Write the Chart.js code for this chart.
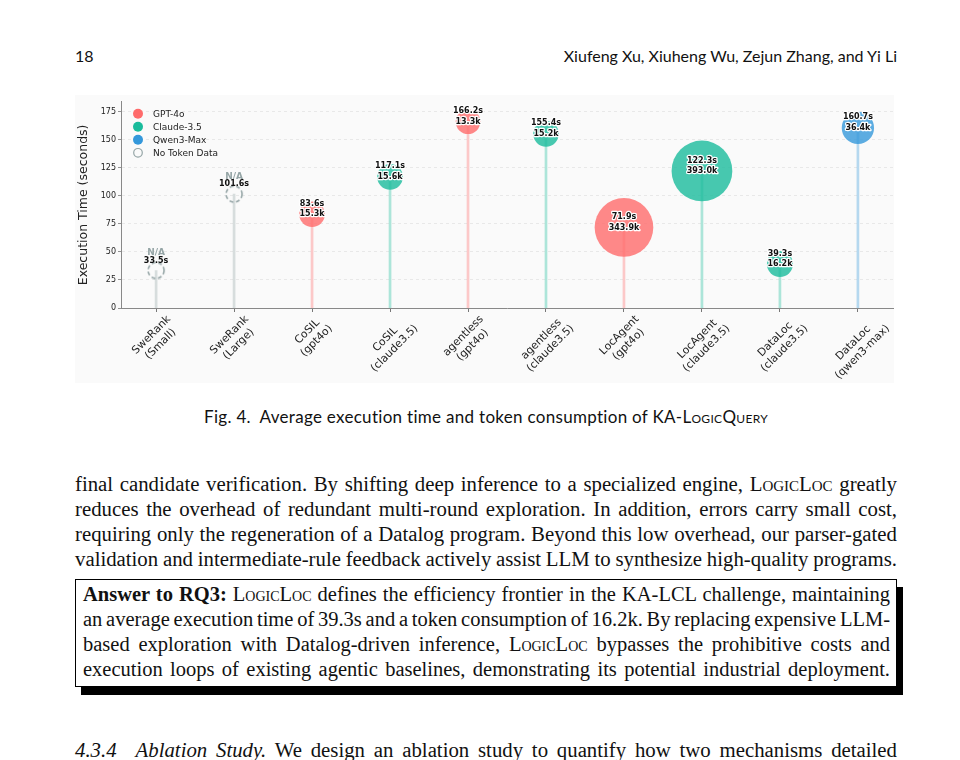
<!DOCTYPE html>
<html>
<head>
<meta charset="utf-8">
<script src="https://cdn.jsdelivr.net/npm/chart.js@4.4.1/dist/chart.umd.min.js"></script>
<style>
  html, body { margin: 0; padding: 0; background: #fff; }
  body { width: 960px; height: 760px; position: relative; overflow: hidden; color: #111; }
  .hdr { position: absolute; top: 46px; font-family: Lato, "Open Sans", sans-serif; font-size: 16px; line-height: 20px; }
  #figura { position: absolute; left: 75px; top: 95px; width: 819px; height: 288px; background: #fafafa; }
  .caption { position: absolute; left: 6px; width: 960px; top: 407px; text-align: center; letter-spacing: 0.3px;
             font-family: Lato, "Open Sans", sans-serif; font-size: 17px; line-height: 20px; }
  .sc { font-variant: small-caps; }
  .texto { position: absolute; left: 75px; width: 822px; font-family: "Liberation Serif", serif;
           font-size: 20.8px; line-height: 25px; }
  .texto div, .caja div { text-align: justify; text-align-last: justify; white-space: nowrap; word-spacing: -2px; }
  .caja { position: absolute; left: 75px; top: 579px; width: 807px; border: 1px solid #000;
          padding: 2px 6px 4px 7px; background: #fff; box-shadow: 6px 8px 0 #000;
          font-family: "Liberation Serif", serif; font-size: 20.5px; line-height: 25px; }
  .hueco { display: inline-block; width: 19px; }
</style>
</head>
<body>
<div class="hdr" style="left:75px">18</div>
<div class="hdr" style="right:63px">Xiufeng Xu, Xiuheng Wu, Zejun Zhang, and Yi Li</div>

<div id="figura"><canvas id="grafico" width="819" height="288"></canvas></div>

<div class="caption">Fig. 4.&nbsp; Average execution time and token consumption of KA-<span class="sc">LogicQuery</span></div>

<div class="texto" style="top:471px">
  <div>final candidate verification. By shifting deep inference to a specialized engine, <span class="sc">LogicLoc</span> greatly</div>
  <div>reduces the overhead of redundant multi-round exploration. In addition, errors carry small cost,</div>
  <div>requiring only the regeneration of a Datalog program. Beyond this low overhead, our parser-gated</div>
  <div>validation and intermediate-rule feedback actively assist LLM to synthesize high-quality programs.</div>
</div>

<div class="caja">
  <div><b>Answer to RQ3:</b> <span class="sc">LogicLoc</span> defines the efficiency frontier in the KA-LCL challenge, maintaining</div>
  <div>an average execution time of 39.3s and a token consumption of 16.2k. By replacing expensive LLM-</div>
  <div>based exploration with Datalog-driven inference, <span class="sc">LogicLoc</span> bypasses the prohibitive costs and</div>
  <div>execution loops of existing agentic baselines, demonstrating its potential industrial deployment.</div>
</div>

<div class="texto" style="top:737px">
  <div><i>4.3.4</i><span class="hueco"></span><i>Ablation Study.</i> We design an ablation study to quantify how two mechanisms detailed</div>
</div>

<script>
// Datos del gráfico
const categorias = [
  ['SweRank', '(Small)'], ['SweRank', '(Large)'], ['CoSIL', '(gpt4o)'], ['CoSIL', '(claude3.5)'],
  ['agentless', '(gpt4o)'], ['agentless', '(claude3.5)'], ['LocAgent', '(gpt4o)'], ['LocAgent', '(claude3.5)'],
  ['DataLoc', '(claude3.5)'], ['DataLoc', '(qwen3-max)']
];
const tiempos = [33.5, 101.6, 83.6, 117.1, 166.2, 155.4, 71.9, 122.3, 39.3, 160.7];
const tokensK = [null, null, 15.3, 15.6, 13.3, 15.2, 343.9, 393.0, 16.2, 36.4];
const modelos = ['N/A', 'N/A', 'GPT-4o', 'Claude-3.5', 'GPT-4o', 'Claude-3.5', 'GPT-4o', 'Claude-3.5', 'Claude-3.5', 'Qwen3-Max'];
const yTicks = [0, 25, 50, 75, 100, 125, 150, 175];
const leyenda = ['GPT-4o', 'Claude-3.5', 'Qwen3-Max', 'No Token Data'];

// Colores por modelo
const colores = { 'GPT-4o': [255, 107, 107], 'Claude-3.5': [26, 188, 156], 'Qwen3-Max': [52, 152, 219], 'N/A': [149, 165, 166] };
const rgba = (m, a) => `rgba(${colores[m].join(',')},${a})`;

// Radio de la burbuja según tokens
const radio = t => 6.2 * Math.pow(t, 0.266);

// Círculo punteado para los métodos sin datos de tokens
function circuloPunteado() {
  const c = document.createElement('canvas');
  c.width = 20; c.height = 20;
  const g = c.getContext('2d');
  g.strokeStyle = rgba('N/A', 1);
  g.lineWidth = 1.6;
  g.setLineDash([4, 2.6]);
  g.beginPath();
  g.arc(10, 10, 8, 0, Math.PI * 2);
  g.stroke();
  return c;
}

const FUENTE = '"DejaVu Sans", sans-serif';

function burbujas(modelo) {
  const datos = [];
  tiempos.forEach((t, i) => {
    if (modelos[i] === modelo) datos.push({ x: i, y: t, r: radio(tokensK[i]) });
  });
  return {
    type: 'bubble', label: modelo, data: datos, order: 1,
    backgroundColor: rgba(modelo, 0.8), borderWidth: 0
  };
}

const sinTokens = [];
tiempos.forEach((t, i) => { if (tokensK[i] === null) sinTokens.push({ x: i, y: t, r: 8 }); });

// Etiquetas de tiempo y tokens
const etiquetas = {
  id: 'etiquetas',
  afterDatasetsDraw(chart) {
    const ctx = chart.ctx;
    const xs = chart.scales.x, ys = chart.scales.y;
    ctx.save();
    ctx.textAlign = 'center';
    ctx.textBaseline = 'middle';
    ctx.lineJoin = 'round';
    tiempos.forEach((t, i) => {
      const px = xs.getPixelForValue(i);
      const py = ys.getPixelForValue(t);
      const lineas = [];
      if (tokensK[i] === null) {
        lineas.push({ txt: 'N/A', dy: -17.5, col: rgba('N/A', 1), f: 'bold 9px ' + FUENTE, borde: false });
        lineas.push({ txt: t.toFixed(1) + 's', dy: -10, col: '#111', f: 'bold 8px ' + FUENTE, borde: false });
      } else {
        lineas.push({ txt: t.toFixed(1) + 's', dy: -10.5, col: '#111', f: 'bold 8px ' + FUENTE, borde: true });
        lineas.push({ txt: tokensK[i].toFixed(1) + 'k', dy: 0, col: '#111', f: 'bold 8px ' + FUENTE, borde: true });
      }
      lineas.forEach(l => {
        ctx.font = l.f;
        if (l.borde) {
          ctx.strokeStyle = '#fff';
          ctx.lineWidth = 2.4;
          ctx.strokeText(l.txt, px, py + l.dy);
        }
        ctx.fillStyle = l.col;
        ctx.fillText(l.txt, px, py + l.dy);
      });
    });
    ctx.restore();
  }
};

// Etiquetas del eje X giradas 45° y centradas en cada marca
const etiquetasX = {
  id: 'etiquetasX',
  afterDraw(chart) {
    const ctx = chart.ctx;
    const xs = chart.scales.x;
    const fs = 10.8, lh = fs * 1.2;
    ctx.save();
    ctx.font = fs + 'px ' + FUENTE;
    ctx.fillStyle = '#222';
    ctx.textAlign = 'center';
    ctx.textBaseline = 'middle';
    categorias.forEach((lineas, i) => {
      const w = Math.max(...lineas.map(s => ctx.measureText(s).width));
      const h = lineas.length * lh;
      const lado = (w + h) * Math.SQRT1_2;
      const cx = xs.getPixelForValue(i);
      const cy = chart.chartArea.bottom + 5 + lado / 2;
      ctx.save();
      ctx.translate(cx, cy);
      ctx.rotate(-Math.PI / 4);
      lineas.forEach((s, k) => ctx.fillText(s, 0, -h / 2 + lh * (k + 0.5)));
      ctx.restore();
    });
    ctx.restore();
  }
};

// Leyenda dentro del área del gráfico
const leyendaPlugin = {
  id: 'leyendaPropia',
  afterDraw(chart) {
    const ctx = chart.ctx;
    const a = chart.chartArea;
    ctx.save();
    ctx.font = '9px ' + FUENTE;
    ctx.textBaseline = 'middle';
    ctx.textAlign = 'left';
    leyenda.forEach((nombre, i) => {
      const cx = a.left + 17, cy = a.top + 12 + i * 13;
      if (nombre === 'No Token Data') {
        ctx.strokeStyle = rgba('N/A', 1);
        ctx.lineWidth = 1.2;
        ctx.beginPath();
        ctx.arc(cx, cy, 4.3, 0, Math.PI * 2);
        ctx.stroke();
      } else {
        ctx.fillStyle = rgba(nombre, 1);
        ctx.beginPath();
        ctx.arc(cx, cy, 5, 0, Math.PI * 2);
        ctx.fill();
      }
      ctx.fillStyle = '#222';
      ctx.fillText(nombre, cx + 15, cy + 0.5);
    });
    ctx.restore();
  }
};

new Chart(document.getElementById('grafico').getContext('2d'), {
  type: 'bubble',
  data: {
    datasets: [
      {
        type: 'bar', label: 'tallos', order: 3, barThickness: 2,
        data: tiempos.map((t, i) => ({ x: i, y: t })),
        backgroundColor: modelos.map(m => rgba(m, 0.35))
      },
      burbujas('GPT-4o'),
      burbujas('Claude-3.5'),
      burbujas('Qwen3-Max'),
      {
        type: 'bubble', label: 'No Token Data', order: 1, data: sinTokens,
        pointStyle: circuloPunteado(), backgroundColor: 'rgba(0,0,0,0)', borderWidth: 0
      }
    ]
  },
  options: {
    responsive: false,
    animation: false,
    events: [],
    layout: { autoPadding: false, padding: { top: 3, right: 1, left: 0, bottom: 0 } },
    plugins: { legend: { display: false }, tooltip: { enabled: false } },
    scales: {
      x: {
        type: 'linear', min: -0.45, max: 9.45, offset: false,
        afterFit: s => { s.height = 75; },
        afterBuildTicks: s => { s.ticks = categorias.map((_, i) => ({ value: i })); },
        grid: { display: true, drawOnChartArea: false, drawTicks: true, tickLength: 4, tickColor: '#777', offset: false },
        border: { color: '#888', width: 1 },
        ticks: { display: false }
      },
      y: {
        min: 0, max: 184,
        afterFit: s => { s.width = 46; },
        afterBuildTicks: s => { s.ticks = yTicks.map(v => ({ value: v })); },
        grid: { color: 'rgba(0,0,0,0.09)', tickLength: 3, tickColor: '#777', lineWidth: 0.8 },
        border: { color: '#888', width: 1, dash: [3, 3] },
        ticks: { color: '#222', padding: 2, font: { family: FUENTE, size: 8 } },
        title: {
          display: true, text: 'Execution Time (seconds)', color: '#222',
          font: { family: FUENTE, size: 12.5 }, padding: { top: 1, bottom: 0 }
        }
      }
    }
  },
  plugins: [etiquetas, etiquetasX, leyendaPlugin]
});
</script>
</body>
</html>
